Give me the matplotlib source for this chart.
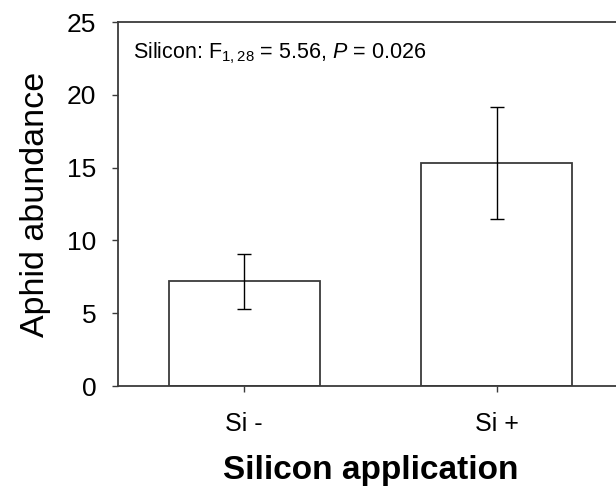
import matplotlib
matplotlib.use("Agg")
import matplotlib.pyplot as plt

plt.rcParams['font.family'] = ['Liberation Sans', 'DejaVu Sans']
plt.rcParams['mathtext.fontset'] = 'custom'
plt.rcParams['mathtext.rm'] = 'Liberation Sans'
plt.rcParams['mathtext.it'] = 'Liberation Sans:italic'

# data
treatments = ['Si -', 'Si +']
abundance = [7.2, 15.3]
se = [1.9, 3.85]
yticks = [0, 5, 10, 15, 20, 25]

line_col = '#3a3a3a'

fig = plt.figure(figsize=(6.16, 4.93), dpi=100)
# right side of the frame runs off the image like in the original
ax = fig.add_axes([118 / 616, 1 - 386 / 493, (623 - 118) / 616, (386 - 22) / 493])

x = list(range(len(treatments)))
ax.bar(x, abundance, width=0.6, color='white', edgecolor=line_col, linewidth=1.3)
ax.errorbar(x, abundance, yerr=se, fmt='none', ecolor='black',
            elinewidth=1.0, capsize=5, capthick=1.0)

ax.set_xlim(-0.5, 1.5)
ax.set_ylim(0, 25)
ax.set_yticks(yticks)
ax.set_xticks(x)
ax.set_xticklabels(treatments, fontsize=18)
ax.tick_params(axis='y', labelsize=19, length=4.5, width=1.0, color=line_col, pad=11)
ax.tick_params(axis='x', length=4.5, width=1.0, color=line_col, pad=14)

for s in ['left', 'bottom', 'top']:
    ax.spines[s].set_color(line_col)
    ax.spines[s].set_linewidth(1.3)
ax.spines['right'].set_visible(False)

ax.set_ylabel('Aphid abundance', fontsize=24.5)
ax.yaxis.set_label_coords(-0.133, 0.5)
ax.set_xlabel('Silicon application', fontsize=24, fontweight='bold')
ax.xaxis.set_label_coords(0.5, -0.19)

ax.text(0.03, 0.915, r'Silicon: F$_{1,28}$ = 5.56, $P$ = 0.026',
        transform=ax.transAxes, fontsize=15.5, va='center', ha='left')

fig.savefig('out.png', dpi=100)
